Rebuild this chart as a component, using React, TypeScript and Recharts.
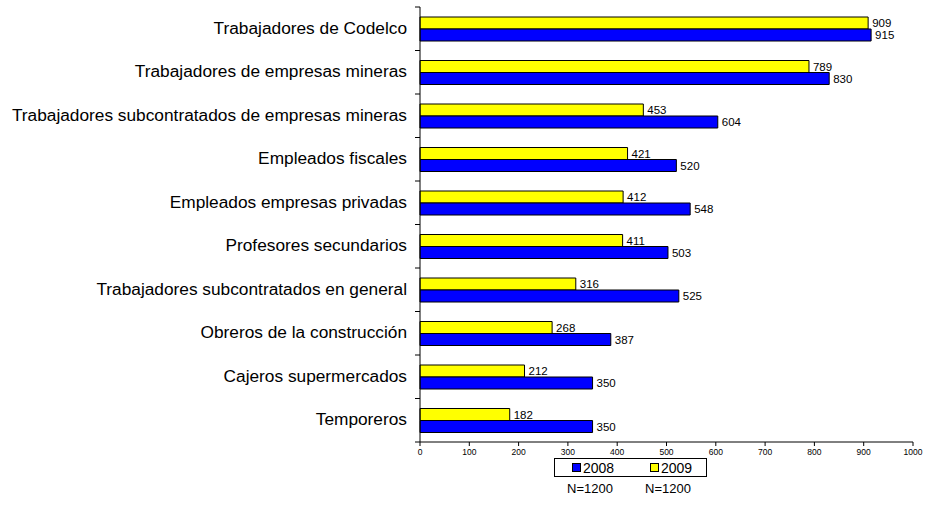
import React from 'react';
import { BarChart, Bar, XAxis, YAxis, LabelList } from 'recharts';

const categories = [
  'Trabajadores de Codelco',
  'Trabajadores de empresas mineras',
  'Trabajadores subcontratados de empresas mineras',
  'Empleados fiscales',
  'Empleados empresas privadas',
  'Profesores secundarios',
  'Trabajadores subcontratados en general',
  'Obreros de la construcción',
  'Cajeros supermercados',
  'Temporeros',
];
const values2008 = [915, 830, 604, 520, 548, 503, 525, 387, 350, 350];
const values2009 = [909, 789, 453, 421, 412, 411, 316, 268, 212, 182];
const xTicks = [0, 100, 200, 300, 400, 500, 600, 700, 800, 900, 1000];
const sampleNote = ['N=1200', 'N=1200'];

const data = categories.map((name, i) => ({ name, y2008: values2008[i], y2009: values2009[i] }));

const FONT = '"Liberation Sans", Arial, sans-serif';
const W = 930;
const H = 506;
const M = { top: 7, right: 17, bottom: 34, left: 0 };
const X_AXIS_H = 30;
const band = (H - M.top - M.bottom - X_AXIS_H) / categories.length;

// category label + Excel-style tick between categories
const CatTick = (props: any) => {
  const { x, y, payload, index } = props;
  const ax = x + 13;
  return (
    <g>
      <text x={x} y={y} dy="0.3em" textAnchor="end" fontSize={17.3} fontFamily={FONT} fill="#000">
        {payload.value}
      </text>
      <line x1={ax - 5} x2={ax} y1={y - band / 2} y2={y - band / 2} stroke="#000" />
      {index === categories.length - 1 && (
        <line x1={ax - 5} x2={ax} y1={y + band / 2} y2={y + band / 2} stroke="#000" />
      )}
    </g>
  );
};

const Swatch = ({ color }: { color: string }) => (
  <span style={{ display: 'inline-block', width: 7, height: 7, background: color, border: '1px solid #000', marginRight: 2 }} />
);

export default function App() {
  return (
    <div style={{ position: 'absolute', left: 0, top: 0, width: W, height: H, background: '#fff', fontFamily: FONT }}>
      <BarChart width={W} height={H} data={data} layout="vertical" margin={M} barSize={12} barGap={0}>
        <XAxis
          type="number"
          domain={[0, 1000]}
          ticks={xTicks}
          interval={0}
          height={X_AXIS_H}
          tickSize={4}
          tickMargin={3}
          tick={{ fontSize: 8.5, fill: '#000', fontFamily: FONT }}
          axisLine={{ stroke: '#000' }}
          tickLine={{ stroke: '#000' }}
        />
        <XAxis xAxisId="top" orientation="top" type="number" domain={[0, 1000]} height={0} tick={false} tickLine={false} axisLine={{ stroke: '#808080' }} />
        <YAxis
          type="category"
          dataKey="name"
          width={420}
          tickSize={5}
          tickMargin={8}
          tickLine={false}
          interval={0}
          tick={<CatTick />}
          axisLine={{ stroke: '#000' }}
        />
        <YAxis yAxisId="right" orientation="right" type="category" dataKey="name" width={0} tick={false} tickLine={false} axisLine={{ stroke: '#808080' }} />
        <Bar dataKey="y2009" fill="#FFFF00" stroke="#000" strokeWidth={1} isAnimationActive={false}>
          <LabelList dataKey="y2009" position="right" offset={4} fontSize={11.5} fill="#000" fontFamily={FONT} />
        </Bar>
        <Bar dataKey="y2008" fill="#0000FF" stroke="#000" strokeWidth={1} isAnimationActive={false}>
          <LabelList dataKey="y2008" position="right" offset={4} fontSize={11.5} fill="#000" fontFamily={FONT} />
        </Bar>
      </BarChart>
      <div
        style={{
          position: 'absolute', left: 554, top: 458, width: 151, height: 17, border: '1px solid #000',
          fontSize: 14, display: 'flex', alignItems: 'center',
        }}
      >
        <span style={{ position: 'absolute', left: 17, display: 'flex', alignItems: 'center' }}>
          <Swatch color="#0000FF" />2008
        </span>
        <span style={{ position: 'absolute', left: 95, display: 'flex', alignItems: 'center' }}>
          <Swatch color="#FFFF00" />2009
        </span>
      </div>
      <div style={{ position: 'absolute', left: 567, top: 481, fontSize: 13 }}>{sampleNote[0]}</div>
      <div style={{ position: 'absolute', left: 645, top: 481, fontSize: 13 }}>{sampleNote[1]}</div>
    </div>
  );
}
